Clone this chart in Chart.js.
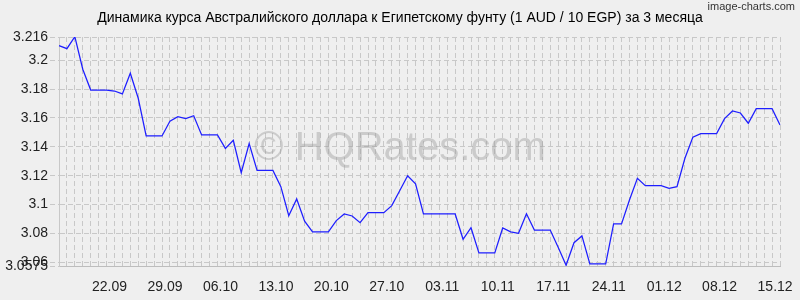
<!DOCTYPE html>
<html><head><meta charset="utf-8">
<script src="https://cdn.jsdelivr.net/npm/chart.js@4/dist/chart.umd.min.js"></script>
<style>html,body{margin:0;padding:0;background:#efefef;}#wrap{width:800px;height:300px;position:relative;}</style>
</head><body><div id="wrap"><canvas id="c" width="800" height="300"></canvas></div>
<script>
const chartTitle = 'Динамика курса Австралийского доллара к Египетскому фунту (1 AUD / 10 EGP) за 3 месяца';
const brandText = 'image-charts.com';
const watermarkText = '© HQRates.com';
const startDay = [2019, 8, 16];
const rates = [
  3.2100, 3.2079, 3.2162, 3.1937, 3.1793, 3.1793, 3.1793, 3.1786, 3.1766, 3.1909,
  3.1736, 3.1475, 3.1475, 3.1475, 3.1577, 3.1608, 3.1595, 3.1615, 3.1482, 3.1482,
  3.1482, 3.1389, 3.1445, 3.1221, 3.1422, 3.1237, 3.1237, 3.1237, 3.1124, 3.0923,
  3.1039, 3.0885, 3.0811, 3.0811, 3.0811, 3.0889, 3.0935, 3.0921, 3.0875, 3.0944,
  3.0944, 3.0944, 3.0993, 3.1096, 3.1200, 3.1143, 3.0935, 3.0935, 3.0935, 3.0935,
  3.0935, 3.0760, 3.0840, 3.0665, 3.0665, 3.0665, 3.0838, 3.0811, 3.0801, 3.0937,
  3.0824, 3.0824, 3.0824, 3.0705, 3.0580, 3.0736, 3.0783, 3.0589, 3.0589, 3.0589,
  3.0866, 3.0866, 3.1032, 3.1182, 3.1131, 3.1131, 3.1131, 3.1113, 3.1124, 3.1321,
  3.1466, 3.1491, 3.1491, 3.1491, 3.1595, 3.1648, 3.1634, 3.1563, 3.1664, 3.1664,
  3.1664, 3.1551
];
const xTickLabels = ['22.09','29.09','06.10','13.10','20.10','27.10','03.11','10.11','17.11','24.11','01.12','08.12','15.12'];
const yTicks = [3.0575, 3.06, 3.08, 3.1, 3.12, 3.14, 3.16, 3.18, 3.2, 3.216];

const pad2 = n => String(n).padStart(2, '0');
const categories = rates.map((_, i) => {
  const d = new Date(startDay[0], startDay[1], startDay[2] + i);
  return pad2(d.getDate()) + '.' + pad2(d.getMonth() + 1);
});

const FONT = "'Liberation Sans', Arial, sans-serif";
const gridColor = '#c8c8c8';

const decorPlugin = {
  id: 'decor',
  beforeDraw(chart) {
    const ctx = chart.ctx;
    ctx.save();
    ctx.fillStyle = '#efefef';
    ctx.fillRect(0, 0, chart.width, chart.height);
    ctx.restore();
  },
  beforeDatasetsDraw(chart) {
    const ctx = chart.ctx;
    ctx.save();
    ctx.font = '40px ' + FONT;
    ctx.fillStyle = 'rgba(150,150,150,0.4)';
    ctx.textAlign = 'center';
    ctx.textBaseline = 'alphabetic';
    ctx.fillText(watermarkText, 400, 160);
    ctx.restore();
  },
  afterDraw(chart) {
    const ctx = chart.ctx;
    ctx.save();
    ctx.fillStyle = '#000';
    ctx.font = '14px ' + FONT;
    ctx.textAlign = 'center';
    ctx.textBaseline = 'middle';
    ctx.fillText(chartTitle, 400, 18);
    ctx.font = '11px ' + FONT;
    ctx.fillStyle = '#333';
    ctx.textAlign = 'right';
    ctx.fillText(brandText, 795, 7);
    ctx.restore();
  }
};

new Chart(document.getElementById('c'), {
  type: 'line',
  data: {
    labels: categories,
    datasets: [{
      data: rates,
      borderColor: 'rgb(30,30,255)',
      borderWidth: 1.25,
      pointRadius: 0,
      tension: 0,
      fill: false
    }]
  },
  options: {
    responsive: false,
    devicePixelRatio: 1,
    animation: false,
    layout: { padding: { top: 37, left: 0, right: 20, bottom: 0 } },
    plugins: { legend: { display: false }, tooltip: { enabled: false }, title: { display: false } },
    scales: {
      x: {
        type: 'category',
        offset: false,
        grid: { color: gridColor, drawTicks: false },
        border: { display: true, color: '#bdbdbd', dash: [5, 3] },
        ticks: {
          autoSkip: false,
          maxRotation: 0,
          minRotation: 0,
          padding: 13,
          labelOffset: 3,
          color: '#222',
          font: { family: FONT, size: 14 },
          callback: function (v, i) {
            const l = categories[i];
            return xTickLabels.includes(l) ? l : '';
          }
        },
        afterFit: s => { s.height = 34; }
      },
      y: {
        min: 3.0575,
        max: 3.216,
        grid: { color: gridColor, tickLength: 9, tickBorderDash: [5, 3] },
        border: { display: true, color: gridColor, dash: [5, 3] },
        afterBuildTicks: s => { s.ticks = yTicks.map(v => ({ value: v })); },
        ticks: {
          autoSkip: false,
          padding: 2,
          color: '#222',
          font: { family: FONT, size: 14 },
          callback: v => String(v)
        },
        afterFit: s => { s.width = 59; }
      }
    }
  },
  plugins: [decorPlugin]
});
</script>
</body></html>
